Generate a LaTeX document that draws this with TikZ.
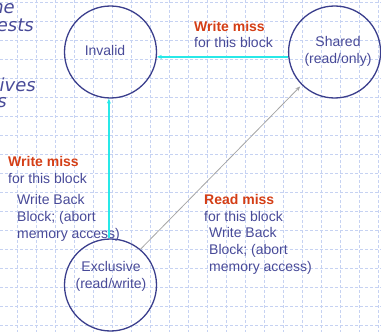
\documentclass[tikz,border=0pt]{standalone}
\usepackage{fontspec}
\setmainfont{Liberation Sans}
\newfontfamily\slidefont{DejaVu Sans}
\usetikzlibrary{arrows.meta}
\definecolor{navy}{RGB}{58,62,140}
\definecolor{navytext}{RGB}{72,74,152}
\definecolor{missred}{RGB}{212,62,22}
\definecolor{tcyan}{RGB}{40,232,232}
\definecolor{gridblue}{RGB}{198,210,242}

\begin{document}
\begin{tikzpicture}[x=1pt,y=-1pt,>={Stealth[length=5pt,width=4pt]},
  state/.style={draw=navy,line width=1.3pt,circle,minimum size=92pt,inner sep=0pt},
  statetext/.style={align=center,text=navytext,inner sep=0pt,font=\fontsize{14}{17}\selectfont},
  txt/.style={anchor=base west,align=left,text=navytext,inner sep=0pt,font=\fontsize{14}{17}\selectfont},
  slide/.style={anchor=base east,text=navytext,inner sep=0pt,font=\slidefont\itshape\fontsize{18}{18}\selectfont}]
\useasboundingbox (0,0) rectangle (381,332);
\clip (0,0) rectangle (381,332);
\foreach \x in {17,36,...,378}
\draw[gridblue,dash pattern=on 3pt off 2pt,line width=0.6pt] (\x,0) -- (\x,332);
\foreach \y in {2,21,...,330}
\draw[gridblue,dash pattern=on 3pt off 2pt,line width=0.6pt] (0,\y) -- (381,\y);

\node[slide] (sa) at (15,13) {ne};
\node[slide] (sb) at (34,31) {ests};
\node[slide] (sc) at (36,91) {gives};
\node[slide] (sd) at (7,107) {s};

\node[state] (inv) at (110.5,52) {};
\node[state] (shr) at (334.6,52) {};
\node[state] (exc) at (110.5,285) {};
\node[statetext] (invtext) at (105,50) {Invalid};
\node[statetext] (shrtext) at (338,51) {Shared\\(read/only)};
\node[statetext] (exctext) at (111,276.5) {Exclusive\\(read/write)};

% anchor base = baseline of the last line
\node[txt] (wmtop) at (194,48) {\textcolor{missred}{\bfseries Write miss}\\for this block};
\node[txt] (wmleft) at (8,183) {\textcolor{missred}{\bfseries Write miss}\\for this block};
\node[txt] (wbleft) at (17,238) {Write Back\\Block; (abort\\memory access)};
\node[txt] (rm) at (204,221) {\textcolor{missred}{\bfseries Read miss}\\for this block};
\node[txt] (wbright) at (209,271) {Write Back\\Block; (abort\\memory access)};

\draw[->,tcyan,line width=1.5pt] (exc.92) -- (inv.268);
\draw[->,tcyan,line width=1.5pt] (shr.186) -- (inv.354);
\draw[->,black!35,line width=0.8pt,shorten >=2pt] (exc.50) -- (shr.225);
\end{tikzpicture}
\end{document}
